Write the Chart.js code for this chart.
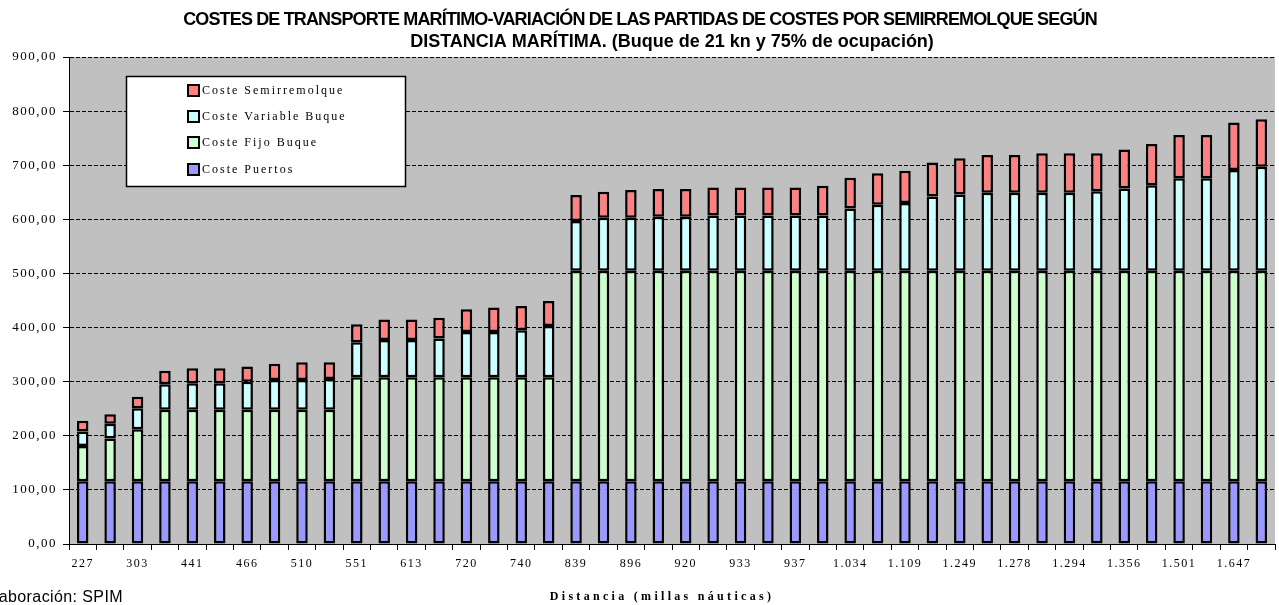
<!DOCTYPE html>
<html>
<head>
<meta charset="utf-8">
<script src="https://cdn.jsdelivr.net/npm/chart.js@4.4.0/dist/chart.umd.min.js"></script>
<style>
  html, body { margin: 0; padding: 0; background: #fff; }
  #wrap { width: 1279px; height: 605px; }
</style>
</head>
<body>
<div id="wrap"><canvas id="costes"></canvas></div>
<script>
// distancias (millas nauticas) - solo se ven una de cada dos
const distancias = ['227','','303','','441','','466','','510','','551','','613','','720','','740','',
  '839','','896','','920','','933','','937','','1.034','','1.109','','1.249','','1.278','','1.294','',
  '1.356','','1.501','','1.647',''];

const costePuertos = [116,116,116,116,116,116,116,116,116,116,116,116,116,116,116,116,116,116,116,116,116,116,
  116,116,116,116,116,116,116,116,116,116,116,116,116,116,116,116,116,116,116,116,116,116];
const costeFijo = [65,79,96,132,132,132,132,132,132,132,192,192,192,192,192,192,192,192,
  389,389,389,389,389,389,389,389,389,389,389,389,389,389,389,389,389,389,389,389,389,389,389,389,389,389];
const costeVariable = [27,27,39,47,49,49,52,55,55,57,65,69,69,72,84,84,87,95,
  92,98,98,100,100,102,102,102,102,102,115,122,125,137,141,144,144,144,144,147,152,158,171,171,186,192];
const costeSemi = [20,18,21,25,28,28,28,30,33,31,33,38,38,38,42,45,45,46,
  48,48,51,51,51,52,52,52,52,55,57,58,60,63,67,70,70,73,73,70,72,76,80,80,88,88];

const yTicks = [0,100,200,300,400,500,600,700,800,900];

const titulo = ['COSTES DE TRANSPORTE MARÍTIMO-VARIACIÓN DE LAS PARTIDAS DE COSTES POR SEMIRREMOLQUE SEGÚN',
  'DISTANCIA MARÍTIMA. (Buque de 21 kn y 75% de ocupación)'];

const serif = '"Liberation Serif", "Times New Roman", serif';
const sans = '"Liberation Sans", Arial, sans-serif';

// fondo gris del area de trazado + espaciado de letras
const fondo = {
  id: 'fondo',
  beforeDraw(chart) {
    const { ctx, chartArea: a } = chart;
    ctx.save();
    ctx.fillStyle = '#c0c0c0';
    ctx.fillRect(a.left, a.top, a.right - a.left, a.bottom - a.top);
    ctx.restore();
    ctx.letterSpacing = '1.5px';
  }
};

// titulo, leyenda, titulo del eje x y fuente
const textos = {
  id: 'textos',
  afterDraw(chart) {
    const { ctx } = chart;
    ctx.save();
    ctx.fillStyle = '#000';
    ctx.textAlign = 'center';
    ctx.textBaseline = 'middle';
    ctx.font = 'bold 18px ' + sans;
    ctx.letterSpacing = '-0.85px';
    ctx.fillText(titulo[0], 640, 20);
    ctx.letterSpacing = '0px';
    ctx.fillText(titulo[1], 672, 42);

    // leyenda
    ctx.fillStyle = '#fff';
    ctx.fillRect(126, 76, 279, 110);
    ctx.strokeStyle = '#000';
    ctx.lineWidth = 1.5;
    ctx.strokeRect(126.5, 76.5, 279, 110);
    const ds = chart.data.datasets.slice().reverse();
    const ys = [90, 116, 142, 169];
    ctx.textAlign = 'left';
    ctx.font = '12px ' + serif;
    ctx.letterSpacing = '2px';
    ds.forEach((d, i) => {
      ctx.fillStyle = d.backgroundColor;
      ctx.fillRect(188, ys[i] - 5, 11, 11);
      ctx.lineWidth = 2;
      ctx.strokeRect(188, ys[i] - 5, 11, 11);
      ctx.fillStyle = '#000';
      ctx.fillText(d.label, 202, ys[i] + 1);
    });

    // titulo eje x
    ctx.textAlign = 'center';
    ctx.font = 'bold 12px ' + serif;
    ctx.letterSpacing = '3.3px';
    ctx.fillText('Distancia (millas náuticas)', 662, 597);

    // fuente (cortada en el original)
    ctx.letterSpacing = '0.4px';
    ctx.textAlign = 'right';
    ctx.textBaseline = 'top';
    ctx.font = '16px ' + sans;
    ctx.fillText('Elaboración: SPIM', 123, 590);
    ctx.restore();
  }
};

const borde = '#000';

new Chart(document.getElementById('costes'), {
  type: 'bar',
  data: {
    labels: distancias,
    datasets: [
      { label: 'Coste Puertos', data: costePuertos, backgroundColor: '#9999ff' },
      { label: 'Coste Fijo Buque', data: costeFijo, backgroundColor: '#ccffcc' },
      { label: 'Coste Variable Buque', data: costeVariable, backgroundColor: '#ccffff' },
      { label: 'Coste Semirremolque', data: costeSemi, backgroundColor: '#ff8080' }
    ].map(d => Object.assign(d, {
      borderColor: borde,
      borderWidth: 2.5,
      borderSkipped: false,
      categoryPercentage: 1,
      barPercentage: 0.42
    }))
  },
  options: {
    responsive: true,
    maintainAspectRatio: false,
    animation: false,
    layout: { padding: { top: 57, right: 4, left: 0, bottom: 0 } },
    plugins: {
      legend: { display: false },
      title: { display: false },
      tooltip: { enabled: false }
    },
    scales: {
      x: {
        stacked: true,
        offset: true,
        grid: {
          offset: true,
          drawOnChartArea: false,
          drawTicks: true,
          tickLength: 6,
          tickColor: '#000',
          tickWidth: 1
        },
        border: { display: true, color: '#000', width: 1 },
        ticks: {
          autoSkip: false,
          maxRotation: 0,
          padding: 7,
          color: '#000',
          font: { family: serif, size: 12 }
        },
        afterFit(s) { s.height = 61; }
      },
      y: {
        stacked: true,
        min: 0,
        max: 900,
        afterBuildTicks(s) { s.ticks = yTicks.map(v => ({ value: v })); },
        grid: {
          color: '#000',
          lineWidth: 1,
          drawTicks: true,
          tickLength: 6,
          tickColor: '#000',
          tickBorderDash: []
        },
        border: { display: true, color: '#000', width: 1, dash: [4, 2] },
        ticks: {
          padding: 6,
          color: '#000',
          font: { family: serif, size: 13 },
          callback: v => v.toFixed(2).replace('.', ',')
        },
        afterFit(s) { s.width = 69; }
      }
    }
  },
  plugins: [fondo, textos]
});
</script>
</body>
</html>
